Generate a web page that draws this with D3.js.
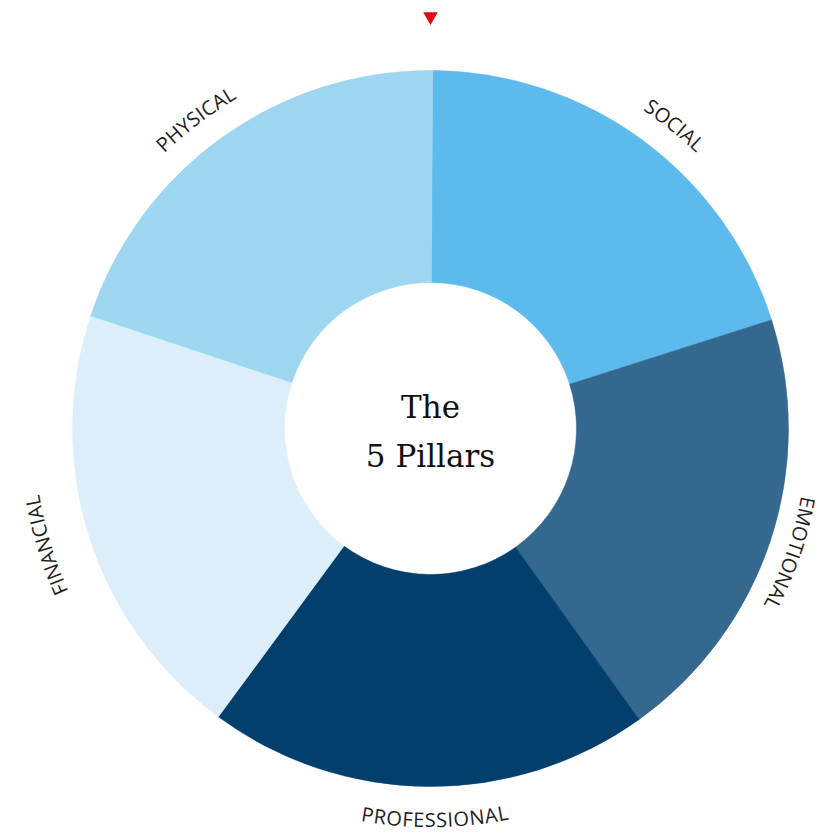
<!DOCTYPE html>
<html>
<head>
<meta charset="utf-8">
<script src="https://cdn.jsdelivr.net/npm/d3@7"></script>
<style>
  html, body { margin: 0; padding: 0; background: #ffffff; }
  svg { display: block; }
</style>
</head>
<body>
<svg id="chart" width="827" height="834"></svg>
<script>
// ---- data ----
const categories = ["SOCIAL", "EMOTIONAL", "PROFESSIONAL", "FINANCIAL", "PHYSICAL"];
const values = [1, 1, 1, 1, 1];
const sliceColors = ["#5cbbec", "#34688e", "#023f6d", "#dceef9", "#9ed5f0"];
const centerTitle = ["The", "5 Pillars"];

// ---- layout ----
const W = 827, H = 834;
const cx = 430.5, cy = 428.5;
const outerR = 358, innerR = 146;
const labelMidR = 390;
// small per-label nudges (degrees, px)
const labelNudge = [
  { da: 2.5, dr: 0 },
  { da: 0.8, dr: -6 },
  { da: -1, dr: 1.5 },
  { da: 0.8, dr: 14 },
  { da: -1.5, dr: 0 }
];

const svg = d3.select("#chart");
svg.append("rect").attr("width", W).attr("height", H).attr("fill", "#ffffff");

const g = svg.append("g").attr("transform", `translate(${cx},${cy})`);

const pie = d3.pie().sort(null).value(d => d).startAngle(0.006).endAngle(2 * Math.PI + 0.006);
const arcs = pie(values);
const arc = d3.arc().innerRadius(innerR).outerRadius(outerR);

g.selectAll("path.slice")
  .data(arcs)
  .join("path")
  .attr("class", "slice")
  .attr("d", arc)
  .attr("fill", (d, i) => sliceColors[i])
  .attr("stroke", (d, i) => sliceColors[i])
  .attr("stroke-width", 0.5);

// curved labels
const defs = svg.append("defs");
const toRad = Math.PI / 180;
function pt(a, r) { return [r * Math.sin(a), -r * Math.cos(a)]; }

arcs.forEach((d, i) => {
  const mid = (d.startAngle + d.endAngle) / 2 + labelNudge[i].da * toRad;
  const r = labelMidR + labelNudge[i].dr;
  const span = 60 * toRad;
  const midDeg = mid / toRad;
  const bottom = midDeg > 135 && midDeg < 225;
  let p;
  if (!bottom) {
    const s = pt(mid - span, r), e = pt(mid + span, r);
    p = `M${s[0]},${s[1]} A${r},${r} 0 0 1 ${e[0]},${e[1]}`;
  } else {
    const s = pt(mid + span, r), e = pt(mid - span, r);
    p = `M${s[0]},${s[1]} A${r},${r} 0 0 0 ${e[0]},${e[1]}`;
  }
  defs.append("path").attr("id", "lp" + i).attr("d", p);
  g.append("text")
    .attr("dy", "0.36em")
    .attr("font-family", "'Open Sans', 'DejaVu Sans', sans-serif")
    .attr("font-size", 20)
    .attr("letter-spacing", 0.4)
    .attr("fill", "#1e1e1e")
    .append("textPath")
    .attr("href", "#lp" + i)
    .attr("startOffset", "50%")
    .attr("text-anchor", "middle")
    .text(categories[i]);
});

// center title
const t = g.append("text")
  .attr("text-anchor", "middle")
  .attr("font-family", "'DejaVu Serif', serif")
  .attr("font-size", 31)
  .attr("fill", "#111111");
t.append("tspan").attr("x", 0).attr("y", -10.5).text(centerTitle[0]);
t.append("tspan").attr("x", 0).attr("y", 38.5).text(centerTitle[1]);

// red pointer at top
svg.append("path")
  .attr("d", d3.line()([[cx - 7.3, 12.3], [cx + 7.3, 12.3], [cx, 25]]) + "Z")
  .attr("fill", "#dd0a14");
</script>
</body>
</html>
